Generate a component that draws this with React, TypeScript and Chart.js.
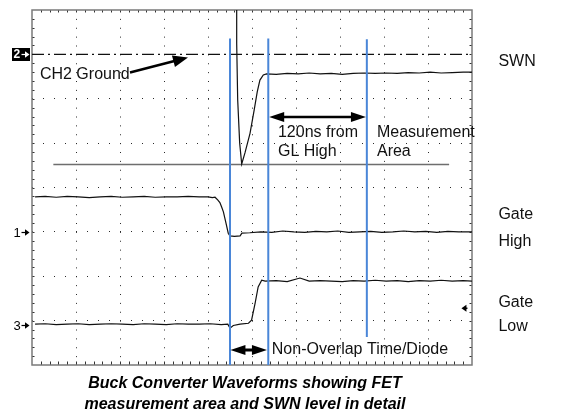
import React, { useEffect, useRef } from "react";
import { Chart, registerables } from "chart.js";

Chart.register(...registerables);

const FONT = "'Liberation Sans', Arial, Helvetica, sans-serif";

// Scope screen: 10 horizontal divisions, 8 vertical divisions
const X_DIVS = 10;
const Y_DIVS = 8;

// SWN (CH2) trace
const swnTime = [4.652, 4.652, 4.675, 4.72, 4.766, 4.84, 4.955, 5.05, 5.12, 5.18, 5.257, 5.33, 5.55, 5.8, 6.05, 6.3, 6.55, 6.8, 7.05, 7.3, 7.55, 7.8, 8.05, 8.3, 8.55, 8.8, 9.05, 9.3, 9.55, 9.8, 10.0];
const swnLevel = [8.3, 7.25, 5.97, 5.0, 4.53, 4.78, 5.22, 5.75, 6.16, 6.42, 6.535, 6.56, 6.55, 6.57, 6.56, 6.58, 6.56, 6.57, 6.55, 6.57, 6.58, 6.57, 6.58, 6.57, 6.59, 6.58, 6.6, 6.58, 6.59, 6.6, 6.6];

// Gate High (CH1) trace
const gateHighTime = [0.07, 0.3, 0.55, 0.8, 1.05, 1.3, 1.55, 1.8, 2.05, 2.3, 2.55, 2.8, 3.05, 3.3, 3.55, 3.8, 4.0, 4.1, 4.16, 4.22, 4.27, 4.31, 4.35, 4.41, 4.46, 4.5, 4.6, 4.73, 4.77, 4.95, 5.2, 5.45, 5.7, 5.95, 6.2, 6.45, 6.7, 6.95, 7.2, 7.45, 7.7, 7.95, 8.2, 8.45, 8.7, 8.95, 9.2, 9.45, 9.7, 10.0];
const gateHighLevel = [3.79, 3.8, 3.78, 3.8, 3.79, 3.77, 3.79, 3.8, 3.78, 3.79, 3.8, 3.78, 3.79, 3.79, 3.8, 3.79, 3.79, 3.77, 3.78, 3.72, 3.66, 3.56, 3.45, 3.19, 2.97, 2.91, 2.9, 2.91, 2.97, 2.98, 3.0, 2.99, 3.02, 3.0, 2.99, 3.01, 3.0, 3.02, 2.99, 3.0, 3.01, 2.99, 3.0, 3.02, 3.0, 3.01, 2.99, 3.01, 3.0, 3.0];

// Gate Low (CH3) trace
const gateLowTime = [0.07, 0.3, 0.55, 0.8, 1.05, 1.3, 1.55, 1.8, 2.05, 2.3, 2.55, 2.8, 3.05, 3.3, 3.55, 3.8, 4.05, 4.3, 4.45, 4.5, 4.575, 4.73, 4.92, 4.99, 5.07, 5.14, 5.22, 5.3, 5.55, 5.8, 6.09, 6.3, 6.55, 6.8, 7.05, 7.3, 7.55, 7.8, 8.05, 8.3, 8.55, 8.8, 9.05, 9.3, 9.55, 9.8, 10.0];
const gateLowLevel = [0.92, 0.93, 0.91, 0.92, 0.93, 0.91, 0.92, 0.93, 0.92, 0.91, 0.93, 0.92, 0.91, 0.93, 0.92, 0.92, 0.93, 0.91, 0.92, 0.83, 0.89, 0.92, 0.94, 1.01, 1.39, 1.76, 1.91, 1.89, 1.9, 1.88, 1.96, 1.89, 1.9, 1.89, 1.88, 1.9, 1.89, 1.91, 1.89, 1.9, 1.88, 1.9, 1.89, 1.91, 1.89, 1.9, 1.89];

// Blue cursors
const cursorTimes = [4.5, 5.37, 7.61];
const cursorTops = [7.36, 7.36, 7.34];
const cursorBottoms = [0, 0, 0.63];

// Reference levels
const ch2GroundLevel = 7.0;
const swnMinLevel = 4.52;
const swnMinSpan = [0.485, 9.48];

// Channel markers on the left
const markerLabels = ["2", "1", "3"];
const markerLevels = [7.0, 3.0, 0.9];
const triggerLevel = 1.278;

// Annotation texts (position in divisions)
const noteTexts = ["CH2 Ground", "120ns from", "GL High", "Measurement", "Area", "Non-Overlap Time/Diode", "SWN", "Gate", "High", "Gate", "Low"];
const noteX = [0.18, 5.59, 5.59, 7.84, 7.84, 5.45, 10.6, 10.6, 10.6, 10.6, 10.6];
const noteY = [6.535, 5.23, 4.82, 5.23, 4.82, 0.338, 6.83, 3.38, 2.79, 1.4, 0.856];

// Arrows
const arrowFrom = [[2.227, 6.59], [5.39, 5.589], [4.51, 0.338]];
const arrowTo = [[3.545, 6.93], [7.59, 5.589], [5.34, 0.338]];
const arrowBoth = [false, true, true];

const titleLines = ["Buck Converter Waveforms showing FET", "measurement area and SWN level in detail"];

const pts = (xs: number[], ys: number[]) => xs.map((x, i) => ({ x, y: ys[i] }));

function drawHead(ctx: CanvasRenderingContext2D, x: number, y: number, ang: number, len: number, wid: number) {
  const c = Math.cos(ang), s = Math.sin(ang);
  ctx.beginPath();
  ctx.moveTo(x, y);
  ctx.lineTo(x - len * c + (wid / 2) * s, y - len * s - (wid / 2) * c);
  ctx.lineTo(x - len * c - (wid / 2) * s, y - len * s + (wid / 2) * c);
  ctx.closePath();
  ctx.fill();
}

function drawArrow(ctx: CanvasRenderingContext2D, x1: number, y1: number, x2: number, y2: number, both: boolean, lw: number, len: number, wid: number) {
  const ang = Math.atan2(y2 - y1, x2 - x1);
  const c = Math.cos(ang), s = Math.sin(ang);
  const sx = both ? x1 + c * (len - 2) : x1;
  const sy = both ? y1 + s * (len - 2) : y1;
  ctx.lineWidth = lw;
  ctx.beginPath();
  ctx.moveTo(sx, sy);
  ctx.lineTo(x2 - c * (len - 2), y2 - s * (len - 2));
  ctx.stroke();
  drawHead(ctx, x2, y2, ang, len, wid);
  if (both) drawHead(ctx, x1, y1, ang + Math.PI, len, wid);
}

const scopePlugin = {
  id: "scopeDecor",
  beforeDatasetsDraw(chart: any) {
    const { ctx, chartArea: a, scales } = chart;
    const xs = scales.x, ys = scales.y;
    ctx.save();
    ctx.strokeStyle = "#333";
    ctx.lineWidth = 1;
    ctx.beginPath();
    for (let i = 1; i < X_DIVS * 5; i++) {
      const px = Math.round(xs.getPixelForValue(i / 5)) + 0.5;
      ctx.moveTo(px, a.top);
      ctx.lineTo(px, a.top + 2.5);
      ctx.moveTo(px, a.bottom);
      ctx.lineTo(px, a.bottom - 3.5);
    }
    for (let j = 1; j < Y_DIVS * 5; j++) {
      const py = Math.round(ys.getPixelForValue(j / 5)) + 0.5;
      ctx.moveTo(a.left, py);
      ctx.lineTo(a.left + 2.5, py);
      ctx.moveTo(a.right, py);
      ctx.lineTo(a.right - 2.5, py);
    }
    ctx.stroke();
    ctx.strokeStyle = "#7a7a7a";
    ctx.lineWidth = 1.5;
    ctx.strokeRect(a.left, a.top, a.right - a.left, a.bottom - a.top);
    ctx.restore();
  },
  afterDatasetsDraw(chart: any) {
    const { ctx, chartArea: a, scales } = chart;
    const xs = scales.x, ys = scales.y;
    ctx.save();
    ctx.fillStyle = "#111";
    ctx.font = `16px ${FONT}`;
    ctx.textBaseline = "middle";
    ctx.textAlign = "left";
    noteTexts.forEach((t, i) => {
      ctx.fillText(t, xs.getPixelForValue(noteX[i]), ys.getPixelForValue(noteY[i]));
    });
    ctx.strokeStyle = "#000";
    ctx.fillStyle = "#000";
    arrowFrom.forEach((f, i) => {
      const t = arrowTo[i];
      drawArrow(
        ctx,
        xs.getPixelForValue(f[0]), ys.getPixelForValue(f[1]),
        xs.getPixelForValue(t[0]), ys.getPixelForValue(t[1]),
        arrowBoth[i], i === 2 ? 3 : 2.5, 15, i === 0 ? 12 : 10
      );
    });
    const ty = ys.getPixelForValue(triggerLevel);
    const tx = xs.getPixelForValue(9.76);
    drawArrow(ctx, tx + 6, ty, tx, ty, false, 1.5, 5, 7);
    markerLabels.forEach((lab, i) => {
      const y = Math.round(ys.getPixelForValue(markerLevels[i]));
      const x0 = a.left - 19;
      if (i === 0) {
        ctx.fillStyle = "#000";
        ctx.fillRect(x0 - 1, y - 6, 18, 13);
        ctx.fillStyle = "#fff";
        ctx.strokeStyle = "#fff";
        ctx.font = `bold 12px ${FONT}`;
      } else {
        ctx.fillStyle = "#000";
        ctx.strokeStyle = "#000";
        ctx.font = `13px ${FONT}`;
      }
      ctx.textBaseline = "middle";
      ctx.fillText(lab, x0 + 0.5, y + 1);
      ctx.lineWidth = 1.2;
      ctx.beginPath();
      ctx.moveTo(x0 + 8.5, y + 0.5);
      ctx.lineTo(x0 + 13, y + 0.5);
      ctx.stroke();
      drawHead(ctx, x0 + 16.5, y + 0.5, 0, 4.5, 6.5);
    });
    ctx.fillStyle = "#000";
    ctx.font = `italic bold 16px ${FONT}`;
    ctx.textAlign = "center";
    ctx.textBaseline = "middle";
    titleLines.forEach((l, i) => ctx.fillText(l, 245, 384 + i * 21));
    ctx.restore();
  },
};

export default function App() {
  const ref = useRef<HTMLCanvasElement | null>(null);
  useEffect(() => {
    if (!ref.current) return;
    const gridColor = (max: number) => (c: any) =>
      c.tick && (c.tick.value === 0 || c.tick.value === max) ? "rgba(0,0,0,0)" : "#2a2a2a";
    const traceStyle = { borderColor: "#111", borderWidth: 1.2, pointRadius: 0, tension: 0, fill: false };
    const chart = new Chart(ref.current, {
      type: "line",
      data: {
        datasets: [
          ...cursorTimes.map((t, i) => ({
            data: [{ x: t, y: cursorTops[i] }, { x: t, y: cursorBottoms[i] }],
            borderColor: "#4a86d8",
            borderWidth: 2,
            pointRadius: 0,
            order: 0,
          })),
          { data: pts(swnTime, swnLevel), ...traceStyle, order: 1 },
          { data: pts(gateHighTime, gateHighLevel), ...traceStyle, order: 1 },
          { data: pts(gateLowTime, gateLowLevel), ...traceStyle, order: 1 },
          {
            data: [{ x: 0, y: ch2GroundLevel }, { x: X_DIVS, y: ch2GroundLevel }],
            borderColor: "#111",
            borderWidth: 1.2,
            borderDash: [12, 4, 2, 4],
            pointRadius: 0,
            order: 2,
          },
          {
            data: [{ x: swnMinSpan[0], y: swnMinLevel }, { x: swnMinSpan[1], y: swnMinLevel }],
            borderColor: "#6e6e6e",
            borderWidth: 1.5,
            pointRadius: 0,
            order: 2,
          },
        ] as any,
      },
      options: {
        animation: false,
        responsive: false,
        events: [],
        layout: { padding: { left: 32, right: 93, top: 10, bottom: 51 } },
        plugins: { legend: { display: false }, tooltip: { enabled: false }, title: { display: false } },
        scales: {
          x: {
            type: "linear",
            min: 0,
            max: X_DIVS,
            ticks: { stepSize: 1, display: false },
            grid: { drawTicks: false, color: gridColor(X_DIVS), lineWidth: 1 },
            border: { display: false, dash: [1, 7.875] },
          },
          y: {
            type: "linear",
            min: 0,
            max: Y_DIVS,
            ticks: { stepSize: 1, display: false },
            grid: { drawTicks: false, color: gridColor(Y_DIVS), lineWidth: 1 },
            border: { display: false, dash: [1, 10] },
          },
        },
      } as any,
      plugins: [scopePlugin],
    });
    return () => chart.destroy();
  }, []);
  return (
    <div style={{ position: "fixed", left: 0, top: 0, width: 565, height: 416, background: "#fff" }}>
      <canvas ref={ref} width={565} height={416} style={{ display: "block" }} />
    </div>
  );
}
